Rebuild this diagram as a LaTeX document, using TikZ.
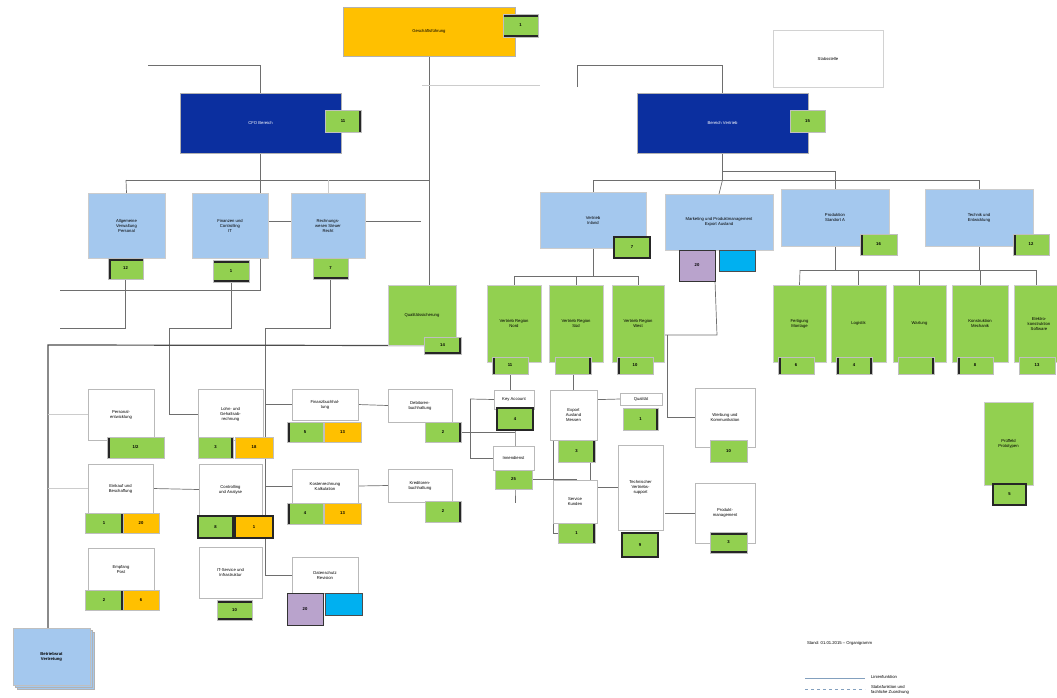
\documentclass[tikz,border=0pt]{standalone}
\usepackage{fontspec}
\setmainfont{Liberation Sans}
\usetikzlibrary{backgrounds,shadows}
\definecolor{cOr}{HTML}{FFC000}
\definecolor{cDb}{HTML}{0B2F9F}
\definecolor{cLb}{HTML}{A4C8EE}
\definecolor{cGr}{HTML}{92D050}
\definecolor{cPu}{HTML}{B9A3CC}
\definecolor{cCy}{HTML}{00B0F0}
\definecolor{cLn}{HTML}{6E6E6E}
\newcommand{\bx}[7]{\node[#1,minimum width=#5pt,minimum height=#6pt,anchor=north west] (#2) at (#3,#4) {#7};}
\tikzset{
  orbox/.style={fill=cOr,draw=gray!60},
  dbox/.style={fill=cDb,draw=gray!60,text=white},
  lbox/.style={fill=cLb,draw=gray!40},
  gbox/.style={fill=cGr,draw=gray!40},
  wbox/.style={fill=white,draw=gray!55},
  tag/.style={fill=cGr,draw=gray!50,font=\fontsize{4.2}{5}\selectfont\bfseries},
  otag/.style={fill=cOr,draw=gray!50,font=\fontsize{4.2}{5}\selectfont\bfseries},
  ptag/.style={fill=cPu,draw=black!80,line width=0.8pt,font=\fontsize{4.2}{5}\selectfont\bfseries},
  ctag/.style={fill=cCy,draw=black!70,line width=0.6pt},
  bl/.style={path picture={\draw[line width=5pt,black!85] (path picture bounding box.north west) -- (path picture bounding box.south west);}},
  br/.style={path picture={\draw[line width=5pt,black!85] (path picture bounding box.north east) -- (path picture bounding box.south east);}},
  btb/.style={path picture={\draw[line width=5pt,black!85] (path picture bounding box.north west) -- (path picture bounding box.north east) (path picture bounding box.south west) -- (path picture bounding box.south east);}},
  bb/.style={path picture={\draw[line width=5pt,black!85] (path picture bounding box.south west) -- (path picture bounding box.south east);}},
  blt/.style={path picture={\draw[line width=5pt,black!85] (path picture bounding box.south west) -- (path picture bounding box.north west) -- (path picture bounding box.north east);}},
  blr/.style={path picture={\draw[line width=5pt,black!85] (path picture bounding box.north west) -- (path picture bounding box.south west) (path picture bounding box.north east) -- (path picture bounding box.south east);}},
  brb/.style={path picture={\draw[line width=5pt,black!85] (path picture bounding box.north east) -- (path picture bounding box.south east) -- (path picture bounding box.south west);}},
  ball/.style={draw=black!85,line width=1.6pt},
  conn/.style={draw=cLn,line width=0.7pt},
  fconn/.style={draw=gray!40,line width=0.6pt},
  tconn/.style={draw=black!70,line width=1.2pt},
}
\begin{document}
\begin{tikzpicture}[x=1pt,y=-1pt,every node/.style={font=\fontsize{4.2}{5}\selectfont,align=center,inner sep=1pt,outer sep=0pt}]
\useasboundingbox (0,0) rectangle (1057,697);
% ---- top level
\bx{orbox}{ceo}{343}{7}{172}{49}{Geschäftsführung}
\bx{tag,btb}{ceot}{503}{14}{35}{23}{1}
\bx{wbox,draw=gray!35}{stab}{773}{30}{110}{57}{Stabsstelle}
\bx{dbox}{dbl}{180}{93}{161}{60}{CFO Bereich}
\bx{tag,br}{dblt}{325}{110}{36}{22}{11}
\bx{dbox}{dbr}{637}{93}{171}{60}{Bereich Vertrieb}
\bx{tag}{dbrt}{790}{110}{35}{22}{15}
% ---- left light blue
\bx{lbox}{lb1}{88}{193}{77}{65}{Allgemeine\\Verwaltung\\Personal}
\bx{tag,blt}{lb1t}{108}{258}{35}{21}{12}
\bx{lbox}{lb2}{192}{193}{76}{65}{Finanzen und\\Controlling\\IT}
\bx{tag,btb}{lb2t}{213}{260}{36}{22}{1}
\bx{lbox}{lb3}{291}{193}{74}{65}{Rechnungs-\\wesen Steuer\\Recht}
\bx{tag,bb}{lb3t}{313}{258}{35}{21}{7}
\bx{gbox}{ga}{388}{285}{68}{60}{Qualitätssicherung}
\bx{tag,brb}{gat}{424}{337}{37}{17}{14}
% ---- right light blue
\bx{lbox}{lbA}{540}{192}{106}{56}{Vertrieb\\Inland}
\bx{tag,ball}{lbAt}{614}{237}{36}{21}{7}
\bx{lbox}{lbB}{665}{194}{108}{56}{Marketing und Produktmanagement\\Export Ausland}
\bx{ptag}{pu}{679}{250}{36}{31}{20}
\bx{ctag}{cy}{719}{250}{36}{21}{}
\bx{lbox}{lbC}{781}{189}{108}{57}{Produktion\\Standort A}
\bx{tag,bl}{lbCt}{860}{234}{37}{21}{16}
\bx{lbox}{lbD}{925}{189}{108}{57}{Technik und\\Entwicklung}
\bx{tag,bl}{lbDt}{1013}{234}{36}{21}{12}
% ---- green row
\bx{gbox}{g1}{487}{285}{54}{77}{Vertrieb Region\\Nord}
\bx{tag,bl}{g1t}{492}{357}{36}{17}{11}
\bx{gbox}{g2}{549}{285}{54}{77}{Vertrieb Region\\Süd}
\bx{tag,br}{g2t}{555}{357}{36}{17}{}
\bx{gbox}{g3}{612}{285}{52}{77}{Vertrieb Region\\West}
\bx{tag,bl}{g3t}{617}{357}{36}{17}{10}
\bx{gbox}{g4}{773}{285}{53}{77}{Fertigung\\Montage}
\bx{tag,bl}{g4t}{778}{357}{36}{17}{6}
\bx{gbox}{g5}{831}{285}{55}{77}{Logistik}
\bx{tag,blr}{g5t}{836}{357}{36}{17}{4}
\bx{gbox}{g6}{893}{285}{53}{77}{Wartung}
\bx{tag,br}{g6t}{898}{357}{36}{17}{}
\bx{gbox}{g7}{952}{285}{56}{77}{Konstruktion\\Mechanik}
\bx{tag,bl}{g7t}{957}{357}{36}{17}{8}
\bx{gbox}{g8}{1014}{285}{50}{77}{Elektro-\\konstruktion\\Software}
\bx{tag}{g8t}{1019}{357}{36}{17}{13}
\bx{gbox}{gx}{984}{402}{49}{83}{Prüffeld\\Prototypen}
\bx{tag,ball}{gxt}{993}{484}{33}{21}{5}
% ---- bottom left white boxes
\bx{wbox}{w1}{88}{389}{66}{51}{Personal-\\entwicklung}
\bx{tag,bl}{w1t}{107}{437}{57}{21}{1/2}
\bx{wbox}{w2}{198}{389}{65}{51}{Lohn- und\\Gehaltsab-\\rechnung}
\bx{tag,br}{w2t}{198}{437}{35}{21}{3}
\bx{otag}{w2o}{235}{437}{38}{21}{18}
\bx{wbox}{w3}{292}{389}{66}{31}{Finanzbuchhal-\\tung}
\bx{tag,bl}{w3t}{287}{422}{36}{20}{5}
\bx{otag}{w3o}{324}{422}{37}{20}{13}
\bx{wbox}{w4}{88}{464}{65}{49}{Einkauf und\\Beschaffung}
\bx{tag,br}{w4t}{85}{513}{38}{20}{1}
\bx{otag}{w4o}{123}{513}{36}{20}{20}
\bx{wbox}{w5}{199}{464}{63}{51}{Controlling\\und Analyse}
\bx{tag,ball}{w5t}{198}{516}{35}{22}{8}
\bx{otag,ball}{w5o}{235}{516}{38}{22}{1}
\bx{wbox}{w6}{292}{469}{66}{34}{Kostenrechnung\\Kalkulation}
\bx{tag,bl}{w6t}{287}{503}{36}{21}{4}
\bx{otag}{w6o}{324}{503}{37}{21}{13}
\bx{wbox}{w7}{88}{548}{66}{42}{Empfang\\Post}
\bx{tag,br}{w7t}{85}{590}{38}{20}{2}
\bx{otag}{w7o}{123}{590}{36}{20}{6}
\bx{wbox}{w8}{199}{547}{63}{51}{IT-Service und\\Infrastruktur}
\bx{tag,btb}{w8t}{217}{600}{35}{20}{10}
\bx{wbox}{w9}{292}{557}{66}{36}{Datenschutz\\Revision}
\bx{ptag}{w9p}{287}{593}{36}{32}{20}
\bx{ctag}{w9c}{325}{593}{37}{22}{}
\node[fill=cLb,draw=gray!50,double copy shadow={shadow xshift=2pt,shadow yshift=-2pt,fill=cLb,draw=gray!60},minimum width=77pt,minimum height=57pt,anchor=north west,font=\fontsize{4.2}{5}\selectfont\bfseries] (sb) at (13,628) {Betriebsrat\\Vertretung};
\bx{wbox}{m1}{388}{389}{64}{33}{Debitoren-\\buchhaltung}
\bx{tag,br}{m1t}{425}{422}{36}{20}{2}
\bx{wbox}{m2}{388}{469}{64}{33}{Kreditoren-\\buchhaltung}
\bx{tag,br}{m2t}{425}{501}{36}{21}{2}
% ---- centre cluster
\bx{wbox}{c1}{494}{390}{40}{19}{Key Account}
\bx{tag,ball}{c1t}{497}{408}{36}{22}{4}
\bx{wbox}{c2}{493}{446}{41}{24}{Innendienst}
\bx{tag}{c2t}{495}{470}{37}{19}{25}
\bx{wbox}{c3}{550}{390}{47}{50}{Export\\Ausland\\Messen}
\bx{tag,br}{c3t}{558}{440}{37}{22}{3}
\bx{wbox}{c4}{553}{480}{44}{43}{Service\\Kunden}
\bx{tag,br}{c4t}{558}{523}{37}{20}{1}
\bx{wbox}{c5}{620}{393}{42}{12}{Qualität}
\bx{tag,br}{c5t}{623}{408}{35}{22}{1}
\bx{wbox}{c6}{618}{445}{45}{85}{Technischer\\Vertriebs-\\support}
\bx{tag,ball}{c6t}{622}{533}{36}{24}{9}
\bx{wbox}{c7}{695}{388}{60}{59}{Werbung und\\Kommunikation}
\bx{tag}{c7t}{710}{440}{37}{22}{10}
\bx{wbox}{c8}{695}{483}{60}{60}{Produkt-\\management}
\bx{tag,btb}{c8t}{710}{532}{37}{21}{3}
% ---- legend
\node[anchor=west] (leg) at (806,643) {Stand: 01.01.2015 -- Organigramm};
\coordinate (l1a) at (805,678); \coordinate (l1b) at (865,678);
\coordinate (l2a) at (805,689); \coordinate (l2b) at (865,689);
\draw[draw=cLb!80!black,line width=0.8pt] (l1a) -- (l1b);
\draw[draw=cLb!80!black,line width=0.8pt,dashed] (l2a) -- (l2b);
\node[anchor=west] (lt1) at (870,677) {Linienfunktion};
\node[anchor=north west,align=left] (lt2) at (870,684) {Stabsfunktion und\\fachliche Zuordnung};
% ---- connectors
\begin{scope}[on background layer]
\coordinate (fL) at (148,65);
\coordinate (fR) at (577,87);
\coordinate (fM) at (422,85);
\coordinate (h1) at (126,180);
\coordinate (cA) at (169,328);
\coordinate (cB) at (265,328);
\coordinate (cC) at (48,345);
\coordinate (cD) at (60,290);
\coordinate (cE) at (60,328);
\coordinate (cK) at (513,276);
\coordinate (cL) at (638,276);
\coordinate (cI) at (717,335);
\coordinate (cJ) at (667,335);
\coordinate (cM) at (593,180);
\coordinate (cN) at (979,180);
\coordinate (cO) at (800,270);
\coordinate (cP) at (1036,270);
\coordinate (cQ) at (470,399);
\coordinate (cR) at (553,400);
\coordinate (cS) at (583,400);
\coordinate (cT) at (590,462);
\coordinate (cU) at (421,221);
\draw[conn] (ceo.south) -- (ceo.south |- ga.south);
\draw[conn] (fL) -| (dbl.north);
\draw[conn] (fR) -- ++(0,-22) -| (dbr.north);
\draw[fconn] (fM) -- (540,85);
\draw[conn] (dbl.south) -- (dbl.south |- h1);
\draw[conn] (h1) -- (ceo.south |- h1);
\draw[conn] (h1) -- (lb1.north);
\draw[fconn] (lb3.north) -- (lb3.north |- h1);
\draw[conn] (dbl.south |- h1) -- (dbl.south |- cD) -- (cD);
\draw[conn] (cU) -- (dbl.south |- cU);
\draw[conn] (lb1t.south) |- (cE);
\draw[conn] (lb2t.south) |- (cA) |- (w2.west);
\draw[conn] (lb3t.south) |- (cB) -- (cB |- w9.west) -- (w9.west);
\draw[conn] (cB |- w3.west) -- (w3.west);
\draw[conn] (cB |- w6.west) -- (w6.west);
\draw[tconn] (gat.west) -- (cC) -- (cC |- sb.north);
\draw[fconn] (cC |- w1.west) -- (w1.west);
\draw[fconn] (cC |- w4.west) -- (w4.west);
\draw[conn] (w4.east) -- (w5.west);
\draw[conn] (w3.east) -- (m1.west);
\draw[conn] (w6.east) -- (m2.west);
\draw[conn] (cQ) -- (c1.west);
\draw[conn] (cQ) |- (c2.west);
\draw[conn] (m1t.east) -- (m1t.east -| c1t.south);
\draw[conn] (g1t.south) -- (g1t.south |- c1.north);
\draw[conn] (c1t.south) -- (c1t.south |- c2t.south) -- ++(0,14);
\draw[conn] (c2t.east) -- ++(45,0);
\draw[conn] (g2t.south) -- (g2t.south |- c3t.north);
\draw[conn] (cR) |- (c4t.west);
\draw[conn] (cS |- c3t.north) -- (cS) -- (c5.west);
\draw[conn] (cT) |- (c6.west);
\draw[conn] (pu.south east) -- (cI) -- (cI -| g3.east);
\draw[conn] (cJ) |- (c7.west);
\draw[conn] (c8.west) -- ++(-30,0);
\draw[conn] (lbA.south) -- (lbA.south |- cK);
\draw[conn] (g1.north) |- (cL) -- (g3.north);
\draw[conn] (g2.north) -- (g2.north |- cK);
\draw[conn] (dbr.south) -- (dbr.south |- cM);
\draw[conn] (cM) -- (cN);
\draw[conn] (dbr.south |- 0,171) -- (lbC.north |- 0,171) -- (lbC.north);
\draw[conn] (cM) -- (lbA.north);
\draw[conn] (dbr.south |- cM) -- (lbB.north);
\draw[conn] (cN) -- (lbD.north);
\draw[conn] (lbC.south) -- (lbC.south |- cO);
\draw[conn] (lbD.south) -- (lbD.south |- cO);
\draw[conn] (cO) -- (cP);
\draw[conn] (cO) -- (g4.north);
\draw[conn] (g5.north) -- (g5.north |- cO);
\draw[conn] (g6.north) -- (g6.north |- cO);
\draw[conn] (g7.north) -- (g7.north |- cO);
\draw[conn] (cP) -- (cP |- g8.north);
\end{scope}
\end{tikzpicture}
\end{document}
